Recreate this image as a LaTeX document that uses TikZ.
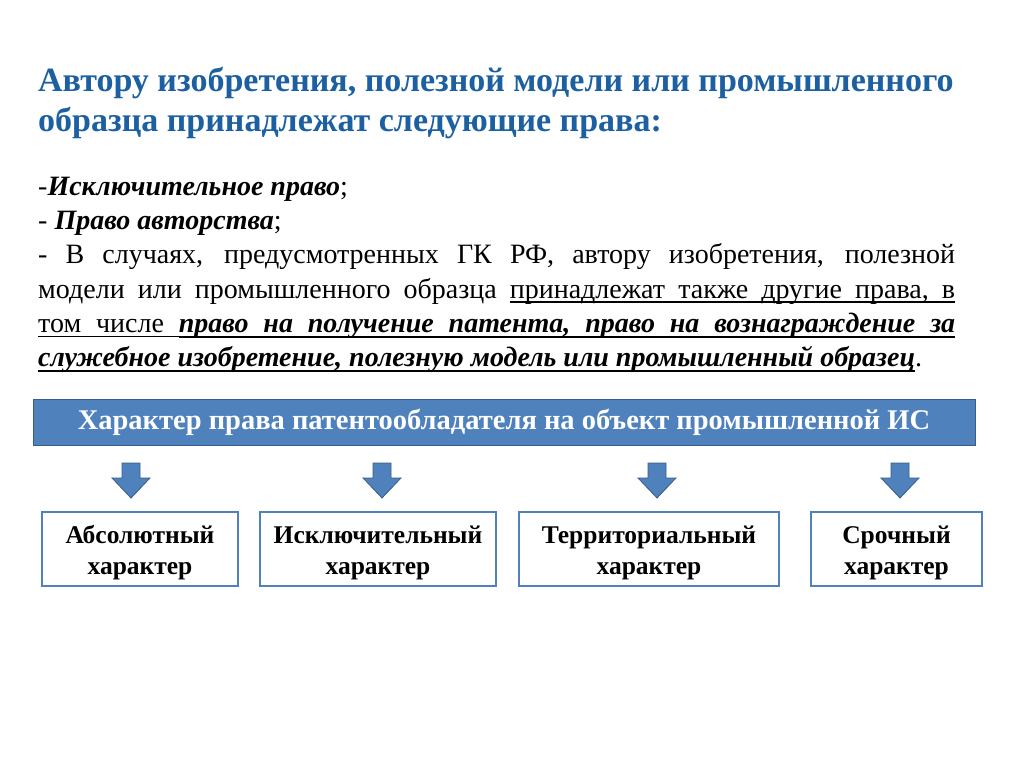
\documentclass[tikz,border=0pt]{standalone}
\usepackage{fontspec}
\setmainfont{Liberation Serif}
\definecolor{titleblue}{RGB}{29,96,161}
\definecolor{barblue}{RGB}{79,129,189}
\definecolor{barline}{RGB}{56,93,138}
% underlined words and stretchable underlined spaces
\def\uldp{4.8pt}
\newcommand\ulword[1]{\setbox0\hbox{#1}\rlap{\vrule height -3.2pt depth \uldp width \wd0}\box0}
\newcommand\ulspace{\leaders\hrule height -3.2pt depth \uldp
    \hskip\fontdimen2\font plus\fontdimen3\font minus\fontdimen4\font\relax}
\makeatletter
\def\ulline#1{\ul@next#1 \ul@end}
\def\ul@next#1 #2\ul@end{\ulword{#1}\def\ul@rest{#2}%
    \ifx\ul@rest\@empty\else\ulspace\ul@next#2\ul@end\fi}
\makeatother
\newcommand\boldul{\bfseries\itshape\def\uldp{5.6pt}}
\tikzset{
    charbox/.style={draw=barblue, line width=1.6pt, fill=white, align=center,
        minimum height=74pt, text height=57pt, font=\fontsize{25.5}{31}\selectfont\bfseries},
    downarrow/.style={fill=barblue, draw=barline, line width=0.8pt}
}
\begin{document}
\begin{tikzpicture}[x=1pt,y=-1pt]
\useasboundingbox[fill=white] (0,0) rectangle (1024,767);
\node (title) at (38,67)[anchor=north west, inner sep=0pt, align=left,
    text=titleblue, font=\fontsize{34}{40}\selectfont\bfseries]
    {Автору изобретения, полезной модели или промышленного\\
     образца принадлежат следующие права:};

\node (rights) at (38,177)[anchor=north west, inner sep=0pt, text width=917pt,
    align=justify, font=\fontsize{28}{34.2}\selectfont]
    {-{\bfseries\itshape Исключительное право};\\
     - {\bfseries\itshape Право авторства};\\
     - В случаях, предусмотренных ГК РФ, автору изобретения, полезной\linebreak
     модели или промышленного образца \ulline{принадлежат также другие права, в}\linebreak
     \ulline{том числе}\ulspace{\boldul\ulline{право на получение патента, право на вознаграждение за}}\linebreak
     {\boldul\ulline{служебное изобретение, полезную модель или промышленный образец}}.};

\node (bar) at (504,422)[draw=barline, fill=barblue, line width=1pt,
    minimum width=942pt, minimum height=46pt, text=white,
    font=\fontsize{28.5}{30}\selectfont\bfseries]
    {Характер права патентообладателя на объект промышленной ИС};

\foreach \x in {131,382,657,900}
{
    \draw[downarrow] (\x-9,463) -- (\x+9,463) -- (\x+9,478) -- (\x+19,478)
        -- (\x,498) -- (\x-19,478) -- (\x-9,478) -- cycle;
}

\foreach \x/\w/\name/\xtext in {140/196/abs/Абсолютный,378/236/excl/Исключительный,
    649/260/terr/Территориальный,896.5/171/term/Срочный}
{
    \node (\name) at (\x,549)[charbox, minimum width=\w pt]{\xtext\\характер};
}
\end{tikzpicture}
\end{document}
